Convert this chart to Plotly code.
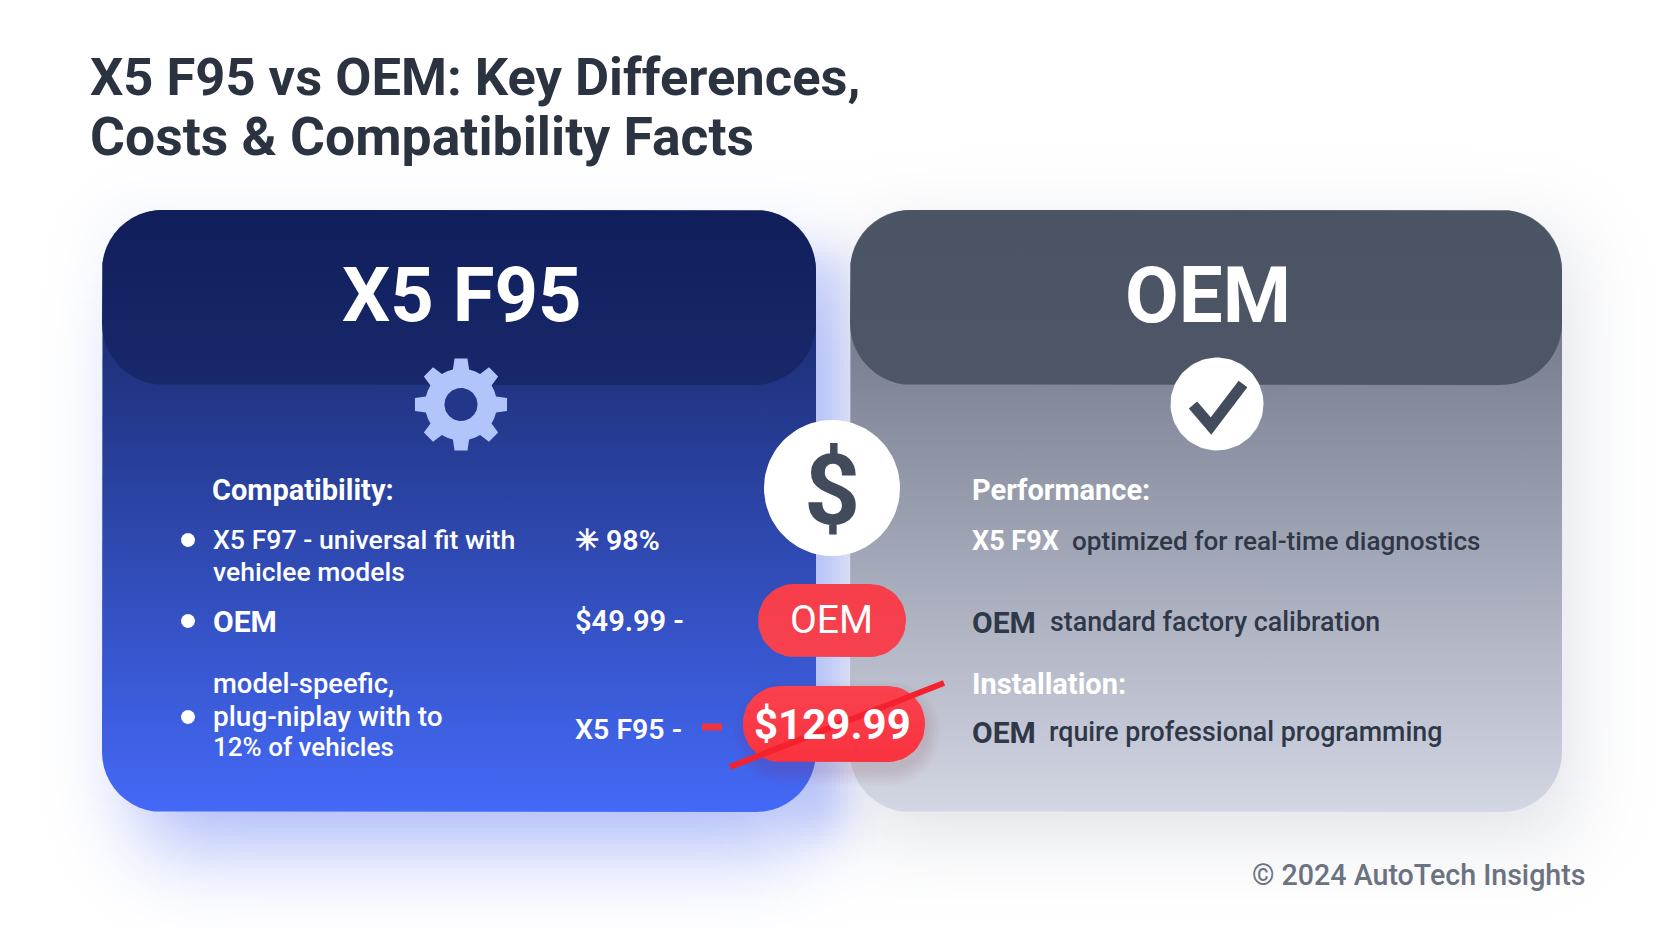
import math
import numpy as np
import plotly.graph_objects as go

# all the wording on the picture (typos are in the original)
titleLines = ["X5 F95 vs OEM: Key Differences,", "Costs & Compatibility Facts"]
cardNames = ["X5 F95", "OEM"]
leftHeading = "Compatibility:"
leftItems = ["X5 F97 - universal fit with", "vehiclee models", "model-speefic,", "plug-niplay with to", "12% of vehicles"]
leftBold = "OEM"
leftValues = ["✳ 98%", "$49.99 -", "X5 F95 -"]
rightHeadings = ["Performance:", "Installation:"]
rightKeys = ["X5 F9X", "OEM", "OEM"]
rightNotes = ["optimized for real-time diagnostics", "standard factory calibration", "rquire professional programming"]
priceTags = ["OEM", "$129.99"]
footer = "© 2024 AutoTech Insights"

FONT = "Roboto"
W, H = 1664, 928
STEP = 4
fig = go.Figure()


def softBox(x0, x1, y0, y1, sigma):
    # blurred box, separable so it stays cheap
    xs = np.arange(STEP / 2, W, STEP)
    ys = np.arange(STEP / 2, H, STEP)
    s = sigma * math.sqrt(2)
    bandX = np.array([0.5 * (math.erf((v - x0) / s) - math.erf((v - x1) / s)) for v in xs])
    bandY = np.array([0.5 * (math.erf((v - y0) / s) - math.erf((v - y1) / s)) for v in ys])
    return np.outer(bandY, bandX)


# page background with the soft shadows painted in
canvas = np.full((H // STEP, W // STEP, 3), 255.0)
shadows = [
    ((860, 1570, 235, 835, 40), (95, 105, 135), 0.20),
    ((102, 816, 210, 812, 30), (70, 100, 240), 0.07),
    ((145, 805, 300, 850, 40), (70, 100, 240), 0.42),
    ((800, 838, 255, 830, 22), (70, 100, 240), 0.34),
]
for box, rgb, alpha in shadows:
    mask = (softBox(*box) * alpha)[:, :, None]
    canvas = canvas * (1 - mask) + np.array(rgb) * mask
fig.add_trace(go.Image(z=canvas.round().astype(int).tolist(), x0=STEP / 2, y0=STEP / 2, dx=STEP, dy=STEP,
                       hoverinfo="skip"))


def roundedRect(x0, y0, x1, y1, r):
    xs, ys = [], []
    corners = [(x1 - r, y1 - r, 0), (x0 + r, y1 - r, 90), (x0 + r, y0 + r, 180), (x1 - r, y0 + r, 270)]
    for cx, cy, start in corners:
        for k in range(13):
            a = math.radians(start + k * 7.5)
            xs.append(cx + r * math.cos(a))
            ys.append(cy + r * math.sin(a))
    xs.append(xs[0])
    ys.append(ys[0])
    return xs, ys


def circle(cx, cy, r):
    xs = [cx + r * math.cos(math.radians(a)) for a in range(0, 361, 4)]
    ys = [cy + r * math.sin(math.radians(a)) for a in range(0, 361, 4)]
    return xs, ys


def addFill(xs, ys, color=None, gradient=None):
    trace = dict(x=xs, y=ys, mode="lines", fill="toself", line=dict(width=0),
                 hoverinfo="skip", showlegend=False)
    if gradient:
        # colorscale runs bottom to top
        trace["fillgradient"] = dict(type="vertical", colorscale=[[0, gradient[1]], [1, gradient[0]]])
    else:
        trace["fillcolor"] = color
    fig.add_trace(go.Scatter(**trace))


def addShadow(x0, y0, x1, y1, r, rgb, steps, spread, alpha):
    for i in range(steps):
        grow = spread * (1 - i / steps)
        xs, ys = roundedRect(x0 - grow, y0 - grow, x1 + grow, y1 + grow, r + grow)
        addFill(xs, ys, f"rgba({rgb},{alpha})")


def addLine(xs, ys, color, width):
    fig.add_trace(go.Scatter(x=xs, y=ys, mode="lines", hoverinfo="skip", showlegend=False,
                             line=dict(color=color, width=width)))


def addText(x, y, text, size, color, weight=400, anchor="left"):
    fig.add_annotation(x=x, y=y, text=text, xref="x", yref="y", showarrow=False, xanchor=anchor, yanchor="middle",
                       font=dict(family=FONT, size=size, color=color, weight=weight))


# cards
addFill(*roundedRect(102, 210, 816, 812, 60), gradient=("#132056", "#4469f7"))
addFill(*roundedRect(850, 210, 1562, 812, 60), gradient=("#60677b", "#d3d6e3"))
addFill(*roundedRect(102, 210, 816, 385, 62), gradient=("#101e5b", "#18286b"))
addFill(*roundedRect(850, 210, 1562, 385, 62), gradient=("#4b5463", "#4e5667"))

# gear icon
gearX, gearY = [], []
for tooth in range(8):
    mid = -90 + tooth * 45
    for offset, rad in [(-22.5, 36), (-13, 36), (-8, 46.5), (8, 46.5), (13, 36)]:
        a = math.radians(mid + offset)
        gearX.append(461 + rad * math.cos(a))
        gearY.append(404.5 + rad * math.sin(a))
gearX.append(gearX[0])
gearY.append(gearY[0])
addFill(gearX, gearY, "#b2c5fb")
addFill(*circle(461, 404.5, 16.5), "#22378a")

# check icon
addFill(*circle(1217, 404, 46.5), "#ffffff")
addLine([1193, 1211, 1243], [405, 426, 384], "#434c5c", 11)

# dollar badge
addFill(*circle(832, 488, 68), "#ffffff")

# price tags
addFill(*roundedRect(758, 584, 906, 657, 36), gradient=("#f73e4b", "#f6414e"))
addShadow(750, 696, 925, 770, 36, "200,60,70", 12, 16, 0.012)
addFill(*roundedRect(743, 686, 925, 762, 37), gradient=("#fa414e", "#f9323f"))
addLine([730, 944], [767, 683], "#f4222e", 6)
addLine([702, 722], [727, 727], "#ee3440", 7)

# bullets
for bulletY in [540, 621, 717]:
    addFill(*circle(188, bulletY, 7), "#ffffff")

# text
addText(88, 77, titleLines[0], 52.5, "#2b3340", 700)
addText(88, 136, titleLines[1], 53.5, "#2b3340", 700)
addText(462, 295, cardNames[0], 76, "#ffffff", 700, "center")
addText(1208, 295, cardNames[1], 78, "#ffffff", 700, "center")
addText(832, 490, "$", 98, "#424b5b", 700, "center")

addText(210, 490, leftHeading, 29, "#ffffff", 700)
addText(211, 540, leftItems[0], 26.7, "#ffffff", 500)
addText(211, 571, leftItems[1], 26.5, "#ffffff", 500)
addText(211, 621, leftBold, 30, "#ffffff", 700)
addText(211, 684, leftItems[2], 27.4, "#ffffff", 500)
addText(211, 716, leftItems[3], 28, "#ffffff", 500)
addText(211, 747, leftItems[4], 26, "#ffffff", 500)
addText(573, 540, leftValues[0], 28.5, "#ffffff", 600)
addText(573, 621, leftValues[1], 29, "#ffffff", 600)
addText(573, 729, leftValues[2], 28.5, "#ffffff", 600)

addText(831, 620, priceTags[0], 39, "#ffffff", 400, "center")
addText(832, 724, priceTags[1], 42, "#ffffff", 700, "center")

addText(970, 490, rightHeadings[0], 29, "#ffffff", 700)
addText(970, 541, rightKeys[0], 27, "#ffffff", 700)
addText(1070, 541, rightNotes[0], 26.1, "#2f3848", 500)
addText(970, 622, rightKeys[1], 30, "#2f3848", 700)
addText(1048, 622, rightNotes[1], 26.8, "#2f3848", 500)
addText(970, 684, rightHeadings[1], 29, "#ffffff", 700)
addText(970, 732, rightKeys[2], 30, "#2f3848", 700)
addText(1047, 732, rightNotes[2], 26.8, "#2f3848", 500)

addText(1588, 875, footer, 28.6, "#6b7280", 500, "right")

fig.update_layout(
    width=W, height=H, margin=dict(l=0, r=0, t=0, b=0),
    paper_bgcolor="#ffffff", plot_bgcolor="#ffffff",
    xaxis=dict(range=[0, W], visible=False, fixedrange=True),
    yaxis=dict(range=[H, 0], visible=False, fixedrange=True),
)
fig.write_html("out.html", config={"displayModeBar": False},
               post_script="document.body.style.margin='0';")
